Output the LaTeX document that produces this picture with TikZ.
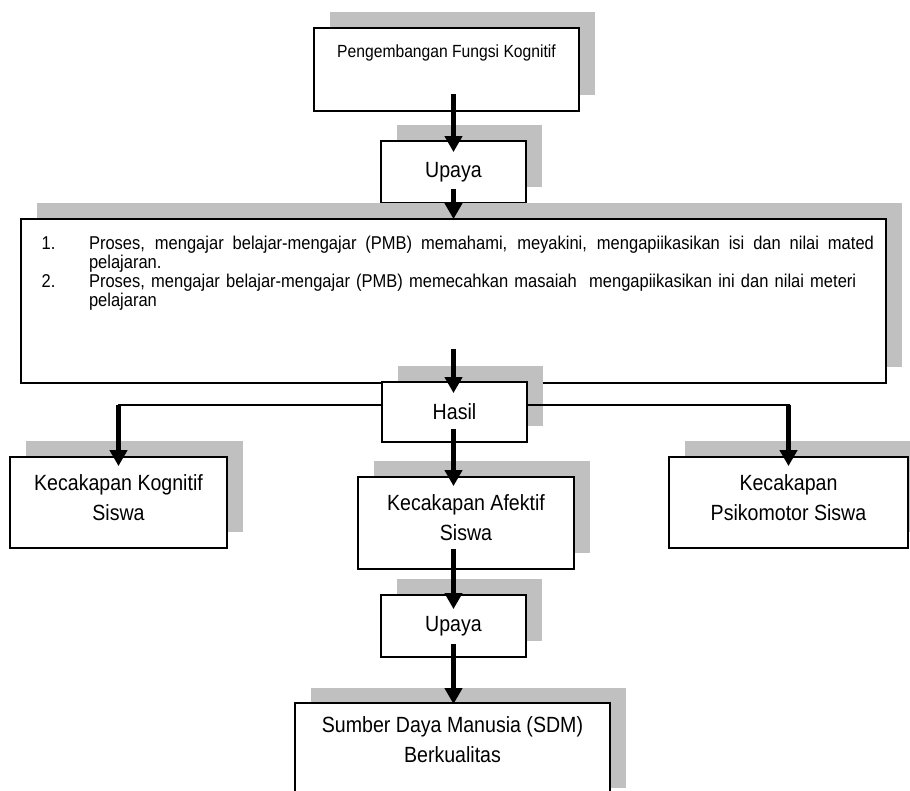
\documentclass[tikz,border=0pt]{standalone}
\usepackage{fontspec}
\setmainfont{Liberation Sans}[FakeStretch=0.89]
\usepackage{tikz}
\usetikzlibrary{arrows.meta,positioning,calc,shadows}
\definecolor{boxshade}{HTML}{C0C0C0}
\tikzset{
  flowbox/.style={draw=black, line width=1.8pt, fill=white, align=center, inner sep=0pt,
                  general shadow={fill=boxshade, shadow xshift=16pt, shadow yshift=15.5pt},
                  font=\fontsize{22}{30}\selectfont},
  arr/.style={-{Triangle[width=17pt,length=16pt]}, line width=4.4pt},
  link/.style={line width=2pt, line cap=rect}}

\begin{document}
\begin{tikzpicture}[x=1pt, y=1pt]
  \useasboundingbox (0,0) rectangle (910,790);
  \clip (0,0) rectangle (910,790);

  \node[flowbox, font=\fontsize{17.6}{20}\selectfont, minimum width=265pt,
        text height=29.5pt, text depth=53.5pt] (fungsi) at (446.5,720.5) {Pengembangan Fungsi Kognitif};
  \node[flowbox, minimum width=145pt, minimum height=62pt] (upayaA) at (453.5,618) {Upaya};
  \node[flowbox, align=left, text width=823.6pt, inner xsep=20.7pt,
        text height=30.5pt, text depth=133.5pt, font=\fontsize{18.55}{18.4}\selectfont] (proses) at (453.5,489) {%
    \noindent\begin{tabular}[t]{@{}p{47.3pt}@{}l@{}}
      1. & \hbox to 785pt{\spaceskip=\fontdimen2\font plus 1fil\relax Proses, mengajar belajar-mengajar (PMB) memahami, meyakini, mengapiikasikan isi dan nilai mated}\\
         & pelajaran.\\
      2. & Proses, mengajar belajar-mengajar (PMB) memecahkan masaiah~ mengapiikasikan ini dan nilai meteri\\
         & pelajaran
    \end{tabular}};
  \node[flowbox, minimum width=145pt, minimum height=60pt] (hasil) at (454.5,378) {Hasil};
  \node[flowbox, minimum width=217pt, text height=64pt, text depth=27pt] (kognitif) at (118.5,287.5) {Kecakapan Kognitif\\Siswa};
  \node[flowbox, minimum width=216pt, text height=64pt, text depth=28pt] (afektif) at (466,267) {Kecakapan Afektif\\Siswa};
  \node[flowbox, minimum width=239pt, text height=64pt, text depth=27pt] (psikomotor) at (788.5,287.5) {Kecakapan\\Psikomotor Siswa};
  \node[flowbox, minimum width=145pt, minimum height=62pt] (upayaB) at (453.5,164) {Upaya};
  \node[flowbox, minimum width=315pt, text height=59.5pt, text depth=40.5pt] (sdm) at (452.5,37) {Sumber Daya Manusia (SDM)\\Berkualitas};

  \draw[arr] ($(fungsi.south -| upayaA)+(0,18)$) -- ($(upayaA.north)+(0,-12)$);
  \draw[arr] ($(upayaA.south)+(0,15)$) -- ($(proses.north -| upayaA)+(0,-1)$);
  \draw[arr] ($(proses.south -| upayaA)+(0,35)$) -- ($(hasil.north -| upayaA)+(0,-12)$);
  \draw[arr] ($(hasil.south -| upayaA)+(0,14)$) -- ($(afektif.north -| upayaA)+(0,-10)$);
  \draw[arr] ($(afektif.south -| upayaA)+(0,21)$) -- ($(upayaB.north)+(0,-15)$);
  \draw[arr] ($(upayaB.south)+(0,14)$) -- ($(sdm.north -| upayaA)+(0,-2)$);

  \coordinate (elbowL) at ($(hasil.west -| kognitif)+(0,7)$);
  \coordinate (elbowR) at ($(hasil.east -| psikomotor)+(0,7)$);
  \draw[link] ($(hasil.west)+(0,7)$) -- (elbowL);
  \draw[link] ($(hasil.east)+(0,7)$) -- (elbowR);
  \draw[arr] (elbowL) -- ($(kognitif.north)+(0,-10)$);
  \draw[arr] (elbowR) -- ($(psikomotor.north)+(0,-10)$);
\end{tikzpicture}
\end{document}
